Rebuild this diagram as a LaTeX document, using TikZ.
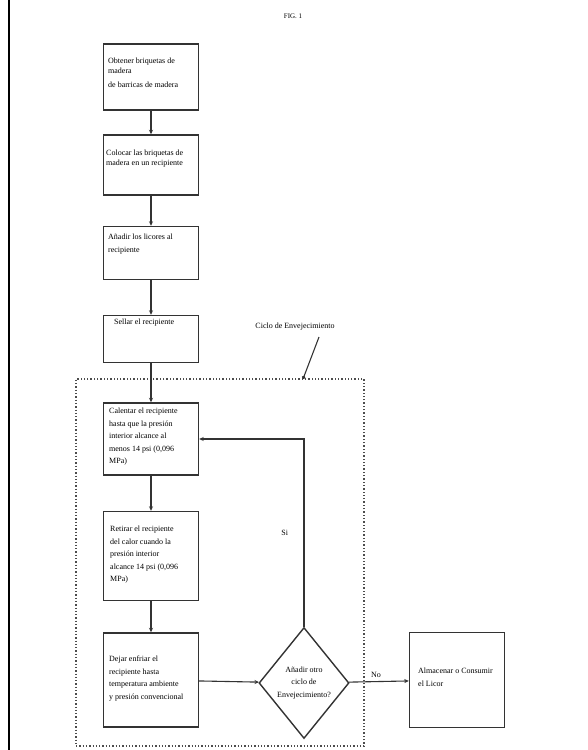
\documentclass[tikz,border=0pt]{standalone}
\usepackage{fontspec}
\setmainfont{Liberation Serif}
\usetikzlibrary{shapes.geometric,arrows.meta}
\tikzset{
  stepbox/.style={draw=black!80, line width=1.4pt, minimum width=95, inner sep=0},
  txt/.style={inner sep=0, anchor=north west, align=left, font=\fontsize{8}{12.5}\selectfont},
  flow/.style={draw=black!80, line width=1.1pt, -{Stealth[length=4.5pt,width=4pt]}},
}
\begin{document}
\begin{tikzpicture}[x=1pt,y=-1pt]
\useasboundingbox (0,0) rectangle (587,750);
\draw[line width=2pt] (9,0) -- (9,750);
\node[font=\fontsize{7}{8}\selectfont] (fig) at (293,16) {FIG. 1};

\node[stepbox, minimum height=66] (b1) at (151,77) {};
\node[stepbox, minimum height=60] (b2) at (151,165) {};
\node[stepbox, minimum height=53] (b3) at (151,253) {};
\node[stepbox, minimum height=47] (b4) at (151,339) {};
\node[stepbox, minimum height=72] (b5) at (151,439) {};
\node[stepbox, minimum height=89] (b6) at (151,556) {};
\node[stepbox, minimum height=94] (b7) at (151,680) {};
\node[draw=black!80, line width=1.4pt, diamond, aspect=0.81, inner sep=0,
  minimum width=90, minimum height=111, align=center,
  font=\fontsize{8}{12.5}\selectfont] (dia) at (304,683) {Añadir otro\\ciclo de\\Envejecimiento?};
\node[stepbox, minimum height=95] (b8) at (457,680) {};

\node[txt, font=\fontsize{8}{10}\selectfont] (t1) at (108,58) {Obtener briquetas de\\madera\\[4pt]de barricas de madera};
\node[txt, font=\fontsize{8}{10}\selectfont] (t2) at (106,150) {Colocar las briquetas de\\madera en un recipiente};
\node[txt] (t3) at (108,234) {Añadir los licores al\\recipiente};
\node[txt] (t4) at (114,319) {Sellar el recipiente};
\node[txt] (t5) at (109,408) {Calentar el recipiente\\hasta que la presión\\interior alcance al\\menos 14 psi (0,096\\MPa)};
\node[txt] (t6) at (110,526) {Retirar el recipiente\\del calor cuando la\\presión interior\\alcance 14 psi (0,096\\MPa)};
\node[txt] (t7) at (109,656) {Dejar enfriar el\\recipiente hasta\\temperatura ambiente\\y presión convencional};
\node[txt] (t8) at (418,668) {Almacenar o Consumir\\el Licor};

\node[draw=black!70, line width=1.3pt, dotted, minimum width=288, minimum height=367, inner sep=0] (cyc) at (220,562.5) {};
\node[font=\fontsize{8}{10}\selectfont] (cyclbl) at (295,327) {Ciclo de Envejecimiento};
\coordinate (lead) at (303,379);
\draw[flow, -{Circle[length=3.5pt]}] (319,337) -- (lead);

\draw[flow] (b1) -- (b2);
\draw[flow] (b2) -- (b3);
\draw[flow] (b3) -- (b4);
\draw[flow] (b4) -- (b5);
\draw[flow] (b5) -- (b6);
\draw[flow] (b6) -- (b7);
\draw[flow] (b7) -- (dia);
\draw[flow] (dia) -- node[above, pos=0.45, font=\fontsize{8}{10}\selectfont] (no) {No} (b8);
\draw[flow] (dia.north) |- node[pos=0.25, left=12pt, font=\fontsize{8}{10}\selectfont] (si) {Si} (b5.east);
\end{tikzpicture}
\end{document}
